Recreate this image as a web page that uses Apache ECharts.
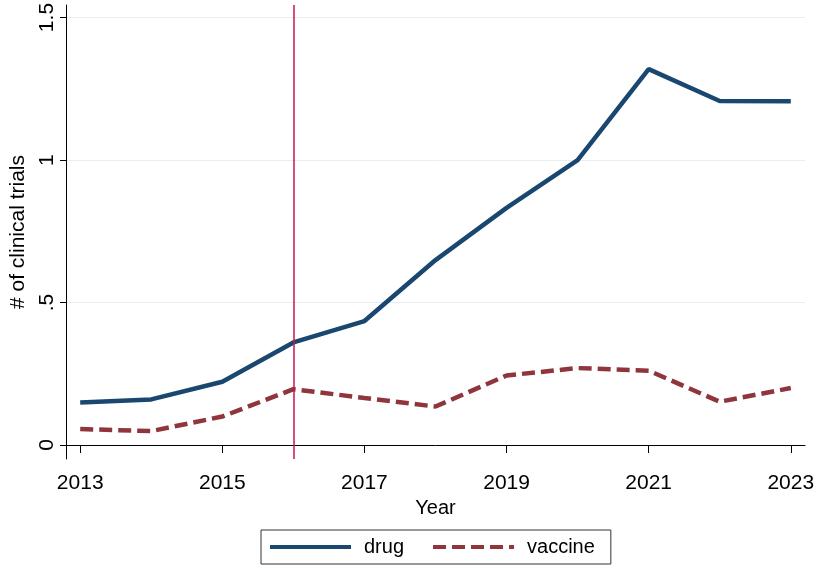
<!DOCTYPE html>
<html>
<head>
<meta charset="utf-8">
<script src="https://cdn.jsdelivr.net/npm/echarts@6/dist/echarts.min.js"></script>
<style>html,body{margin:0;padding:0;background:#fff;}#c{width:817px;height:570px;}</style>
</head>
<body>
<div id="c"></div>
<script>
const years = [2013, 2014, 2015, 2016, 2017, 2018, 2019, 2020, 2021, 2022, 2023];
const drug = [0.149, 0.160, 0.222, 0.360, 0.435, 0.649, 0.832, 1.000, 1.319, 1.207, 1.206];
const vaccine = [0.056, 0.049, 0.100, 0.196, 0.165, 0.135, 0.244, 0.270, 0.261, 0.152, 0.200];
const xTicks = [2013, 2015, 2017, 2019, 2021, 2023];
const yTicks = [0, 0.5, 1, 1.5];
const yTickLabels = {0: '0', 0.5: '.5', 1: '1', 1.5: '1.5'};
const policyYear = 2016;

const font = 'Liberation Sans, Arial, sans-serif';
const chart = echarts.init(document.getElementById('c'));
chart.setOption({
  backgroundColor: '#ffffff',
  animation: false,
  grid: {left: 66, right: 12, top: 5, bottom: 111, containLabel: false, outerBoundsMode: 'none'},
  legend: {
    left: 261, top: 530,
    padding: [7, 16, 7, 7],
    borderColor: '#333', borderWidth: 1,
    itemWidth: 81, itemHeight: 20, itemGap: 27,
    itemStyle: {opacity: 0},
    lineStyle: {width: 4},
    textStyle: {fontFamily: font, fontSize: 20, color: '#000', padding: [0, 0, 0, 8]},
    data: ['drug', 'vaccine']
  },
  xAxis: {
    type: 'value', min: 2012.8, max: 2023.2,
    name: 'Year', nameLocation: 'middle', nameGap: 38,
    nameTextStyle: {fontFamily: font, fontSize: 20, color: '#000'},
    axisLine: {show: true, lineStyle: {color: '#000', width: 1}},
    axisTick: {show: true, length: 8, customValues: xTicks, lineStyle: {color: '#000'}},
    axisLabel: {customValues: xTicks, fontFamily: font, fontSize: 21, color: '#000', margin: 14, formatter: v => String(v)},
    splitLine: {show: false}
  },
  yAxis: {
    type: 'value', min: -0.049, max: 1.544,
    name: '# of clinical trials', nameLocation: 'middle', nameGap: 35,
    nameTextStyle: {fontFamily: font, fontSize: 21, color: '#000'},
    axisLine: {show: true, lineStyle: {color: '#000', width: 1}},
    axisTick: {show: true, length: 6, customValues: yTicks, lineStyle: {color: '#000'}},
    axisLabel: {customValues: yTicks, rotate: 90, fontFamily: font, fontSize: 21, color: '#000', margin: 8,
      formatter: v => yTickLabels[v] !== undefined ? yTickLabels[v] : ''},
    splitLine: {show: true, lineStyle: {color: '#e6eef1', width: 1}}
  },
  series: [
    {
      name: 'drug', type: 'line', symbol: 'none', showSymbol: false,
      data: years.map((y, i) => [y, drug[i]]),
      lineStyle: {color: '#1a476f', width: 4.5},
      itemStyle: {color: '#1a476f'},
      markLine: {
        silent: true, symbol: 'none', label: {show: false},
        lineStyle: {color: '#c8164a', width: 1.5, type: 'solid'},
        data: [{xAxis: policyYear}]
      },
      z: 3
    },
    {
      name: 'vaccine', type: 'line', symbol: 'none', showSymbol: false,
      data: years.map((y, i) => [y, vaccine[i]]),
      lineStyle: {color: '#90353b', width: 4.5, type: [13, 6]},
      itemStyle: {color: '#90353b'},
      z: 2
    }
  ]
});
</script>
</body>
</html>
